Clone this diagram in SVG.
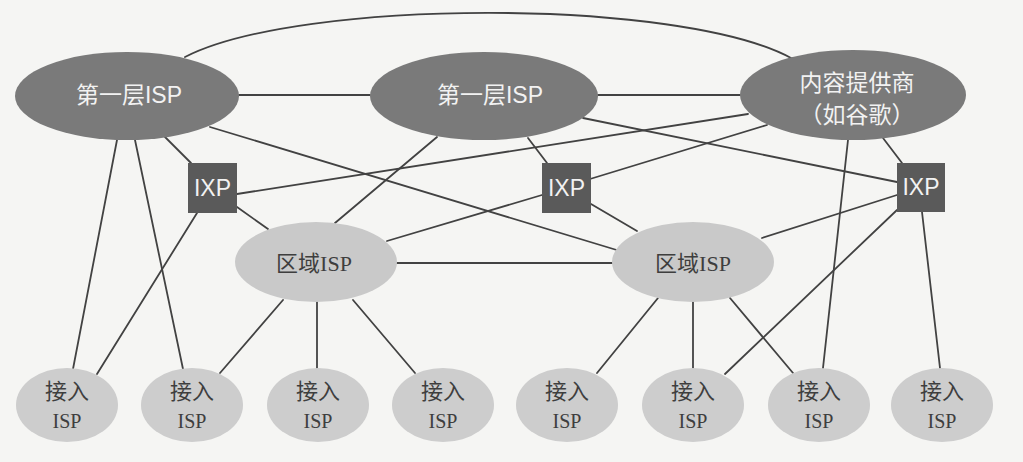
<svg xmlns="http://www.w3.org/2000/svg" width="1023" height="462" viewBox="0 0 1023 462">
<style>
.bg{fill:#f5f5f3}
.ln{stroke:#424242;stroke-width:1.8;fill:none;stroke-linecap:round}
.t1{fill:#7a7a7a}
.ixp{fill:#5a5a5a}
.reg{fill:#c9c9c9}
.acc{fill:#cdcdcd}
.wt{fill:#f2f2f2;font-family:"Liberation Sans","Noto Sans CJK SC",sans-serif;font-size:23px;text-anchor:middle}
.dt{fill:#3e3e3e;font-family:"Liberation Serif","Noto Sans CJK SC",serif;text-anchor:middle}
</style>
<rect class="bg" x="0" y="0" width="1023" height="462"/>
<g id="connectors">
<path class="ln" d="M185,57 C300,-2 680,-2 791,58"/>
<line class="ln" x1="239" y1="95" x2="370" y2="95"/>
<line class="ln" x1="598" y1="95" x2="740" y2="95"/>
<line class="ln" x1="210" y1="127" x2="620" y2="251"/>
<line class="ln" x1="165" y1="137" x2="191" y2="163"/>
<line class="ln" x1="117" y1="140" x2="73" y2="369"/>
<line class="ln" x1="135" y1="140" x2="183" y2="369"/>
<line class="ln" x1="197" y1="213" x2="97" y2="374"/>
<line class="ln" x1="237" y1="207" x2="268" y2="229"/>
<line class="ln" x1="237" y1="194" x2="748" y2="114"/>
<line class="ln" x1="437" y1="137" x2="335" y2="223"/>
<line class="ln" x1="528" y1="138" x2="547" y2="163"/>
<line class="ln" x1="583" y1="118" x2="897" y2="182"/>
<line class="ln" x1="590" y1="179" x2="767" y2="125"/>
<line class="ln" x1="542" y1="195" x2="387" y2="241"/>
<line class="ln" x1="591" y1="204" x2="637" y2="231"/>
<line class="ln" x1="883" y1="138" x2="902" y2="163"/>
<line class="ln" x1="848" y1="140" x2="823" y2="368"/>
<line class="ln" x1="897" y1="195" x2="762" y2="238"/>
<line class="ln" x1="897" y1="210" x2="725" y2="374"/>
<line class="ln" x1="922" y1="212" x2="940" y2="368"/>
<line class="ln" x1="397" y1="263" x2="612" y2="263"/>
<line class="ln" x1="283" y1="300" x2="220" y2="373"/>
<line class="ln" x1="317" y1="302" x2="317" y2="368"/>
<line class="ln" x1="353" y1="300" x2="415" y2="373"/>
<line class="ln" x1="658" y1="298" x2="597" y2="373"/>
<line class="ln" x1="693" y1="302" x2="693" y2="368"/>
<line class="ln" x1="730" y1="298" x2="793" y2="373"/>
</g>
<g id="tier1-left">
<ellipse class="t1" cx="127" cy="96" rx="112" ry="44"/>
<text class="wt" x="129" y="103">第一层ISP</text>
</g>
<g id="tier1-mid">
<ellipse class="t1" cx="484" cy="96" rx="114" ry="44"/>
<text class="wt" x="490" y="103">第一层ISP</text>
</g>
<g id="content-provider">
<ellipse class="t1" cx="853" cy="95" rx="113" ry="45"/>
<text class="wt" x="857" y="91">内容提供商</text>
<text class="wt" x="857" y="123">（如谷歌）</text>
</g>
<g id="ixp-left">
<rect class="ixp" x="188" y="163" width="49" height="50"/>
<text class="wt" x="212.5" y="196">IXP</text>
</g>
<g id="ixp-mid">
<rect class="ixp" x="542" y="163" width="49" height="50"/>
<text class="wt" x="566.5" y="196">IXP</text>
</g>
<g id="ixp-right">
<rect class="ixp" x="897" y="163" width="48" height="49"/>
<text class="wt" x="921" y="195">IXP</text>
</g>
<g id="regional-left">
<ellipse class="reg" cx="316" cy="262" rx="81" ry="40"/>
<text class="dt" x="314" y="271" font-size="22">区域ISP</text>
</g>
<g id="regional-right">
<ellipse class="reg" cx="693" cy="262" rx="81" ry="40"/>
<text class="dt" x="693" y="271" font-size="22">区域ISP</text>
</g>
<g id="access-1"><ellipse class="acc" cx="67" cy="405" rx="51" ry="37"/><text class="dt" x="67" y="399" font-size="22">接入</text><text class="dt" x="67" y="428" font-size="20">ISP</text></g>
<g id="access-2"><ellipse class="acc" cx="192" cy="405" rx="51" ry="37"/><text class="dt" x="192" y="399" font-size="22">接入</text><text class="dt" x="192" y="428" font-size="20">ISP</text></g>
<g id="access-3"><ellipse class="acc" cx="318" cy="405" rx="51" ry="37"/><text class="dt" x="318" y="399" font-size="22">接入</text><text class="dt" x="318" y="428" font-size="20">ISP</text></g>
<g id="access-4"><ellipse class="acc" cx="443" cy="405" rx="51" ry="37"/><text class="dt" x="443" y="399" font-size="22">接入</text><text class="dt" x="443" y="428" font-size="20">ISP</text></g>
<g id="access-5"><ellipse class="acc" cx="567" cy="405" rx="51" ry="37"/><text class="dt" x="567" y="399" font-size="22">接入</text><text class="dt" x="567" y="428" font-size="20">ISP</text></g>
<g id="access-6"><ellipse class="acc" cx="693" cy="405" rx="51" ry="37"/><text class="dt" x="693" y="399" font-size="22">接入</text><text class="dt" x="693" y="428" font-size="20">ISP</text></g>
<g id="access-7"><ellipse class="acc" cx="819" cy="405" rx="51" ry="37"/><text class="dt" x="819" y="399" font-size="22">接入</text><text class="dt" x="819" y="428" font-size="20">ISP</text></g>
<g id="access-8"><ellipse class="acc" cx="942" cy="405" rx="51" ry="37"/><text class="dt" x="942" y="399" font-size="22">接入</text><text class="dt" x="942" y="428" font-size="20">ISP</text></g>
</svg>
